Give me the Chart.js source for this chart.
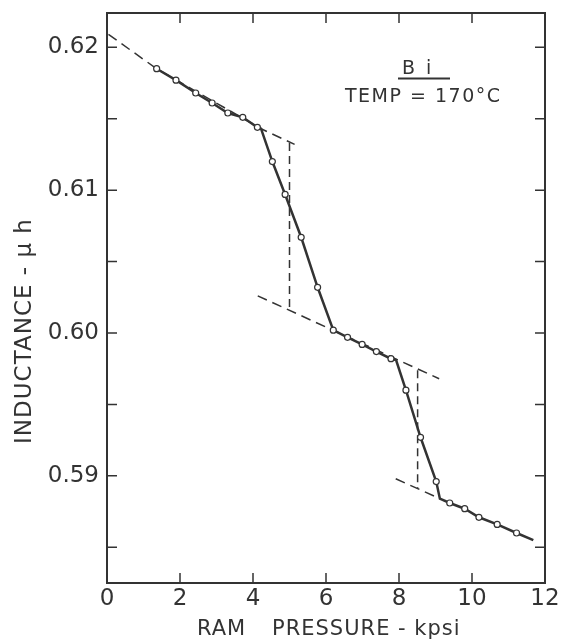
<!DOCTYPE html>
<html>
<head>
<meta charset="utf-8">
<script src="https://cdn.jsdelivr.net/npm/chart.js@4.4.0/dist/chart.umd.min.js"></script>
<style>
  html, body { margin: 0; padding: 0; background: #fff; }
  #wrap { width: 561px; height: 639px; }
</style>
</head>
<body>
<div id="wrap"><canvas id="chart" width="561" height="639"></canvas></div>
<script>
// measured points (ram pressure kpsi, inductance uh)
const pressure = [1.36, 1.89, 2.43, 2.88, 3.31, 3.72, 4.12, 4.53, 4.88, 5.32, 5.77, 6.20,
                  6.59, 6.99, 7.38, 7.78, 8.19, 8.59, 9.02, 9.39, 9.80, 10.19, 10.69, 11.22]
const inductance = [0.6185, 0.6177, 0.6168, 0.6161, 0.6154, 0.6151, 0.6144, 0.6120, 0.6097, 0.6067, 0.6032, 0.6002,
                    0.5997, 0.5992, 0.5987, 0.5982, 0.5960, 0.5927, 0.5896, 0.5881, 0.5877, 0.5871, 0.5866, 0.5860]

// extra corners of the solid curve (between measured points)
const kinkX = [4.22, 7.92, 9.12, 11.68]
const kinkY = [0.6143, 0.5981, 0.5884, 0.5855]

// dashed extrapolations
const upperX = [0.04, 1.36, 4.22, 5.14]
const upperY = [0.6209, 0.6185, 0.6143, 0.6132]
const middleX = [4.13, 9.10]
const middleY = [0.6026, 0.5968]
const lowerX = [7.91, 9.12]
const lowerY = [0.5898, 0.5884]

// vertical dashed steps
const step1X = [5.0, 5.0]
const step1Y = [0.6133, 0.6016]
const step2X = [8.51, 8.51]
const step2Y = [0.5974, 0.5891]

const xTicks = [0, 2, 4, 6, 8, 10, 12]

const ink = '#333333'
const font = '"DejaVu Sans", Verdana, sans-serif'
const toXY = (xs, ys) => xs.map((x, i) => ({x: x, y: ys[i]}))

const curve = toXY(pressure, inductance).concat(toXY(kinkX, kinkY)).sort((a, b) => a.x - b.x)

function dashed(xs, ys, dash){
  return {
    type: 'line',
    data: toXY(xs, ys),
    borderColor: ink,
    borderWidth: 1.5,
    borderDash: dash,
    pointRadius: 0,
    fill: false,
    order: 2
  }
}

const framePlugin = {
  id: 'frame',
  afterDatasetsDraw(chart){
    const ctx = chart.ctx
    const a = chart.chartArea
    const xs = chart.scales.x
    const ys = chart.scales.y
    ctx.save()
    ctx.strokeStyle = ink
    ctx.lineWidth = 2
    ctx.strokeRect(a.left, a.top, a.right - a.left, a.bottom - a.top)
    ctx.lineWidth = 1.5
    ctx.beginPath()
    xs.ticks.forEach(t => {
      const px = xs.getPixelForValue(t.value)
      ctx.moveTo(px, a.bottom); ctx.lineTo(px, a.bottom - 10)
      ctx.moveTo(px, a.top); ctx.lineTo(px, a.top + 10)
    })
    ys.ticks.forEach(t => {
      const py = ys.getPixelForValue(t.value)
      ctx.moveTo(a.left, py); ctx.lineTo(a.left + 10, py)
      ctx.moveTo(a.right, py); ctx.lineTo(a.right - 10, py)
    })
    ctx.stroke()

    // axis titles
    ctx.fillStyle = ink
    ctx.textAlign = 'center'
    ctx.textBaseline = 'middle'
    ctx.font = '23px ' + font
    ctx.save()
    ctx.translate(25, 331)
    ctx.rotate(-Math.PI / 2)
    ctx.letterSpacing = '1px'
    ctx.fillText('INDUCTANCE - \u03bc h', 0, 0)
    ctx.restore()
    ctx.font = '21px ' + font
    ctx.letterSpacing = '1px'
    ctx.textAlign = 'left'
    ctx.fillText('RAM', 197, 630)
    ctx.fillText('PRESSURE - kpsi', 272, 630)

    // note
    ctx.font = '19px ' + font
    ctx.letterSpacing = '11px'
    ctx.fillText('Bi', 402, 69)
    ctx.letterSpacing = '1.5px'
    ctx.fillText('TEMP = 170\u00b0C', 345, 97)
    ctx.lineWidth = 2
    ctx.beginPath()
    ctx.moveTo(398, 78.5); ctx.lineTo(450, 78.5)
    ctx.stroke()
    ctx.restore()
  }
}

new Chart(document.getElementById('chart'), {
  type: 'scatter',
  data: {
    datasets: [
      {
        label: 'measured',
        data: toXY(pressure, inductance),
        pointRadius: 3,
        pointBackgroundColor: '#fff',
        pointBorderColor: ink,
        pointBorderWidth: 1.2,
        showLine: false,
        order: 0
      },
      {
        type: 'line',
        label: 'curve',
        data: curve,
        borderColor: ink,
        borderWidth: 2.5,
        pointRadius: 0,
        fill: false,
        order: 1
      },
      dashed(upperX, upperY, [10, 6]),
      dashed(middleX, middleY, [10, 6]),
      dashed(lowerX, lowerY, [10, 6]),
      dashed(step1X, step1Y, [8, 5]),
      dashed(step2X, step2Y, [8, 5])
    ]
  },
  options: {
    responsive: false,
    animation: false,
    layout: { padding: { top: 13, right: 16, left: 0, bottom: 0 } },
    plugins: {
      legend: { display: false },
      tooltip: { enabled: false }
    },
    scales: {
      x: {
        type: 'linear',
        min: 0,
        max: 12,
        afterBuildTicks: (scale) => { scale.ticks = xTicks.map(v => ({value: v})) },
        afterFit: (scale) => { scale.height = 56; scale.paddingLeft = 0; scale.paddingRight = 0 },
        grid: { display: false, drawTicks: false },
        border: { display: false },
        ticks: {
          color: ink,
          padding: 2,
          maxRotation: 0,
          autoSkip: false,
          font: { family: font, size: 23 }
        }
      },
      y: {
        type: 'linear',
        min: 0.5825,
        max: 0.6224,
        afterFit: (scale) => { scale.width = 107; scale.paddingTop = 0; scale.paddingBottom = 0 },
        grid: { display: false, drawTicks: false },
        border: { display: false },
        ticks: {
          stepSize: 0.005,
          includeBounds: false,
          autoSkip: false,
          color: ink,
          padding: 8,
          font: { family: font, size: 23 },
          callback: (v) => Math.abs(v * 100 - Math.round(v * 100)) < 1e-6 ? v.toFixed(2) : ''
        }
      }
    }
  },
  plugins: [framePlugin]
})
</script>
</body>
</html>
